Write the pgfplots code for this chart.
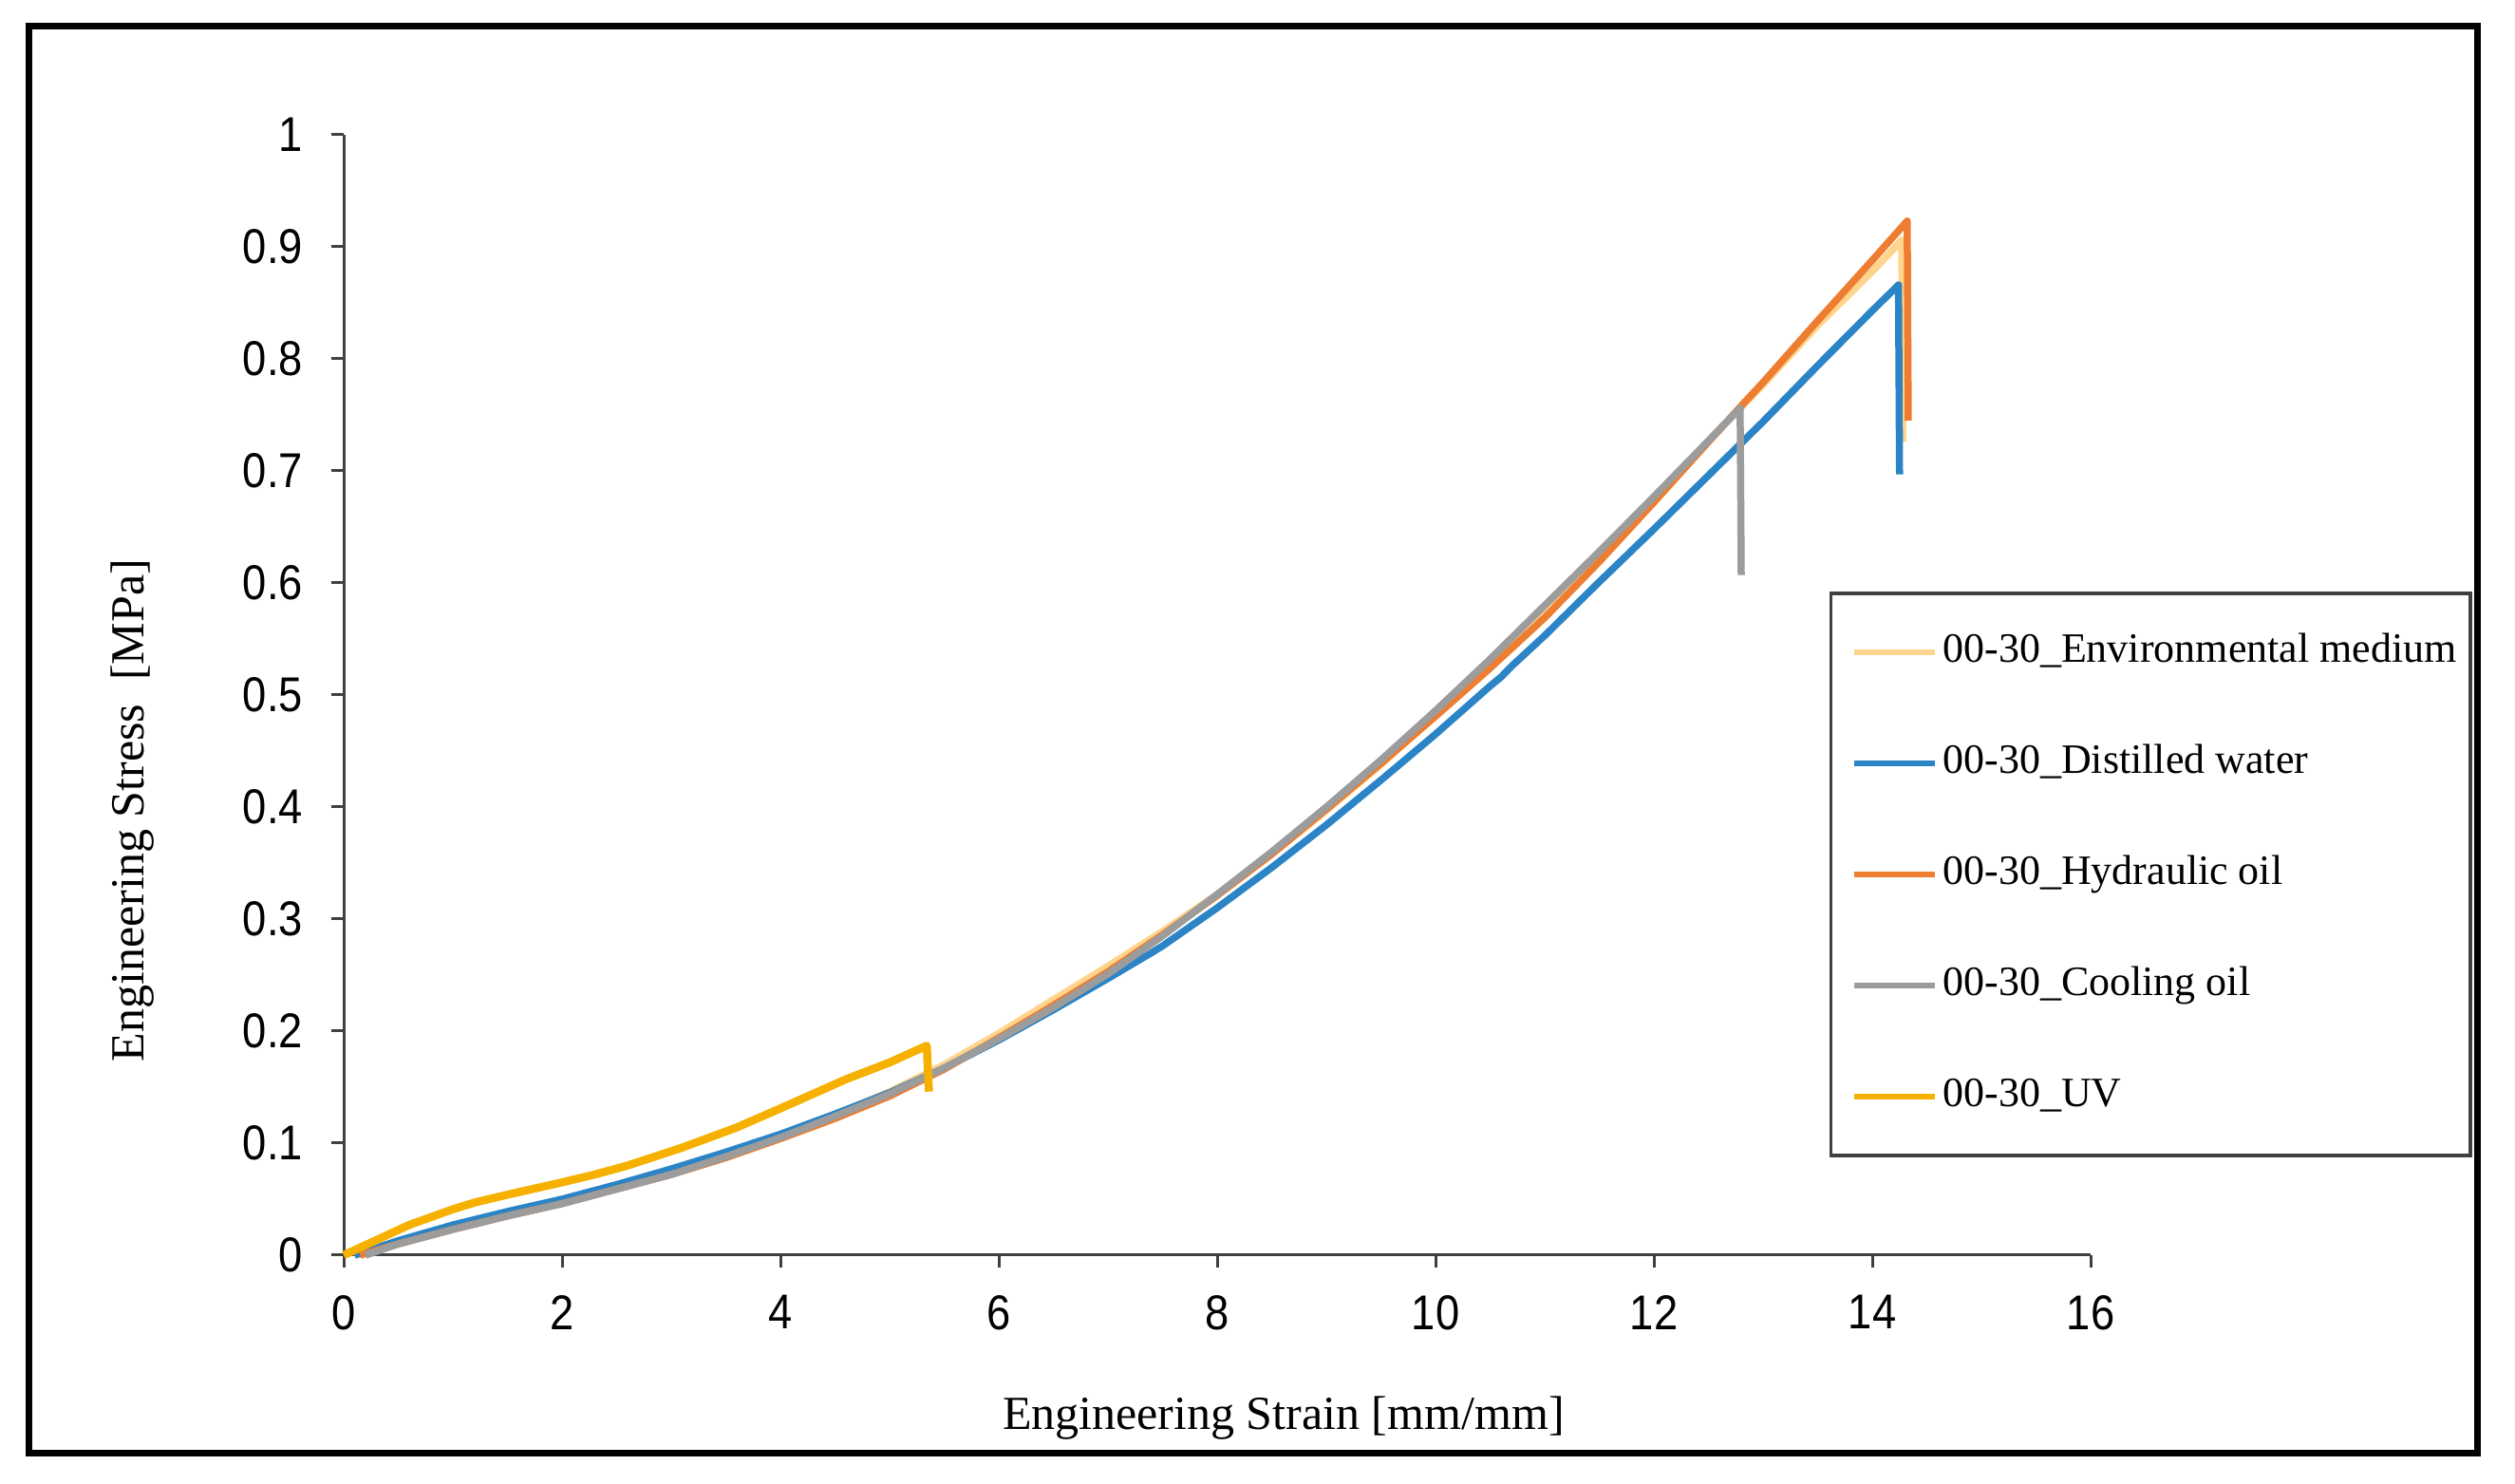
\documentclass[border=0pt]{standalone}
\usepackage{fontspec}
\setmainfont{Liberation Serif}
\newfontfamily\tickfont[FakeStretch=0.88]{Liberation Sans}
\usepackage{pgfplots}
\pgfplotsset{compat=1.18}

\definecolor{envcol}{HTML}{FFD48C}
\definecolor{watercol}{HTML}{2B84C6}
\definecolor{hydcol}{HTML}{ED7D31}
\definecolor{coolcol}{HTML}{9C9C9C}
\definecolor{uvcol}{HTML}{F6B000}
\definecolor{axcol}{HTML}{404040}

\begin{document}
\begin{tikzpicture}
  \begin{axis}[
    scale only axis, width=368pt, height=236pt,
    xmin=0, xmax=16, ymin=0, ymax=1, clip=false,
    xtick={0,2,...,16},
    ytick={0,0.1,0.2,0.3,0.4,0.5,0.6,0.7,0.8,0.9,1},
    axis x line=bottom, axis y line=left,
    axis line style={-, draw=axcol, line width=0.6pt},
    tick align=outside, major tick length=2.7pt,
    tick style={draw=axcol, line width=0.6pt},
    /pgf/number format/assume math mode=true,
    tick label style={font=\tickfont\fontsize{10.3}{12}\selectfont},
    xticklabel style={yshift=-2.2pt},
    yticklabel style={xshift=-2.4pt},
    xlabel={Engineering Strain [mm/mm]},
    ylabel={Engineering Stress\ \ [MPa]},
    label style={font=\fontsize{10}{12}\selectfont},
    xlabel style={at={(axis description cs:0.538,-0.1458)}, anchor=center},
    ylabel style={at={(axis description cs:-0.121,0.397)}, anchor=center},
    every axis plot/.append style={line width=1.5pt, line join=round},
    legend cell align=left,
    legend image code/.code={\path (0pt,0pt); \draw[#1, line width=1.2pt] (2.3pt,0pt) -- (19.3pt,0pt);},
    legend style={at={(axis description cs:0.8505,0.592)}, anchor=north west,
      draw=axcol, line width=0.7pt, inner xsep=1.8pt, inner ysep=7.4pt,
      row sep=13.4pt, nodes={inner sep=1pt, text height=6pt, text depth=2pt},
      font=\fontsize{8.8}{10}\selectfont},
  ]

    % Environmental medium
    \addplot[envcol] coordinates {
      (0.1,0) (0.5,0.011) (1,0.025) (1.5,0.037) (2,0.048) (2.5,0.061) (3,0.074)
      (3.5,0.089) (4,0.106) (4.5,0.125) (5,0.146) (5.5,0.17) (6,0.198) (6.5,0.228)
      (7,0.258) (7.5,0.289) (8,0.322) (8.5,0.358) (9,0.397) (9.5,0.438) (10,0.482)
      (10.5,0.527) (11,0.574) (11.5,0.624) (12,0.675) (12.5,0.727) (13,0.777)
      (13.5,0.83) (14,0.878) (14.27,0.906) (14.28,0.726) };
    \addlegendentry{00-30\_Environmental medium}

    % Distilled water
    \addplot[watercol] coordinates {
      (0.1,0) (0.5,0.013) (1,0.027) (1.5,0.039) (2,0.05) (2.5,0.063) (3,0.077)
      (3.5,0.092) (4,0.108) (4.5,0.126) (5,0.145) (5.5,0.167) (6,0.192) (6.5,0.219)
      (7,0.247) (7.4,0.27) (7.5,0.276) (8,0.31) (8.5,0.346) (9,0.384) (9.5,0.424)
      (10,0.465) (10.5,0.508) (10.6,0.516) (10.7,0.526) (11,0.553) (11.5,0.601)
      (12,0.648) (12.5,0.696) (13,0.744) (13.5,0.794) (14,0.843) (14.24,0.866)
      (14.25,0.697) };
    \addlegendentry{00-30\_Distilled water}

    % Hydraulic oil
    \addplot[hydcol] coordinates {
      (0.15,0) (0.5,0.01) (1,0.023) (1.5,0.035) (2,0.046) (2.5,0.059) (3,0.072)
      (3.5,0.087) (4,0.104) (4.5,0.122) (5,0.142) (5.5,0.166) (6,0.194) (6.5,0.223)
      (7,0.253) (7.5,0.286) (8,0.321) (8.5,0.358) (9,0.398) (9.5,0.439) (10,0.481)
      (10.5,0.524) (11,0.569) (11.5,0.619) (12,0.672) (12.5,0.726) (12.8,0.758)
      (13,0.779) (13.5,0.834) (14,0.888) (14.32,0.923) (14.33,0.745) };
    \addlegendentry{00-30\_Hydraulic oil}

    % Cooling oil
    \addplot[coolcol] coordinates {
      (0.2,0) (0.5,0.01) (1,0.023) (1.5,0.035) (2,0.046) (2.5,0.059) (3,0.072)
      (3.5,0.088) (4,0.105) (4.5,0.124) (5,0.144) (5.5,0.167) (6,0.193) (6.5,0.221)
      (7,0.251) (7.5,0.285) (8,0.322) (8.5,0.36) (9,0.4) (9.5,0.442) (10,0.486)
      (10.5,0.532) (11,0.58) (11.5,0.628) (12,0.677) (12.5,0.727) (12.79,0.756)
      (12.8,0.607) };
    \addlegendentry{00-30\_Cooling oil}

    % UV
    \addplot[uvcol, line width=1.7pt] coordinates {
      (0,0) (0.2,0.009) (0.4,0.018) (0.6,0.027) (0.8,0.034) (1,0.041) (1.2,0.047)
      (1.5,0.054) (2,0.065) (2.3,0.072) (2.6,0.08) (3.1,0.096) (3.6,0.114)
      (4,0.131) (4.3,0.144) (4.6,0.157) (5,0.172) (5.34,0.187) (5.36,0.146) };
    \addlegendentry{00-30\_UV}

    % outer frame and page extent
    \path (axis description cs:-0.19674,-0.20424) rectangle (axis description cs:1.24293,1.12034);
    \draw[line width=1.4pt] (axis description cs:-0.1804,-0.1763) rectangle (axis description cs:1.2217,1.0966);
  \end{axis}
\end{tikzpicture}
\end{document}
